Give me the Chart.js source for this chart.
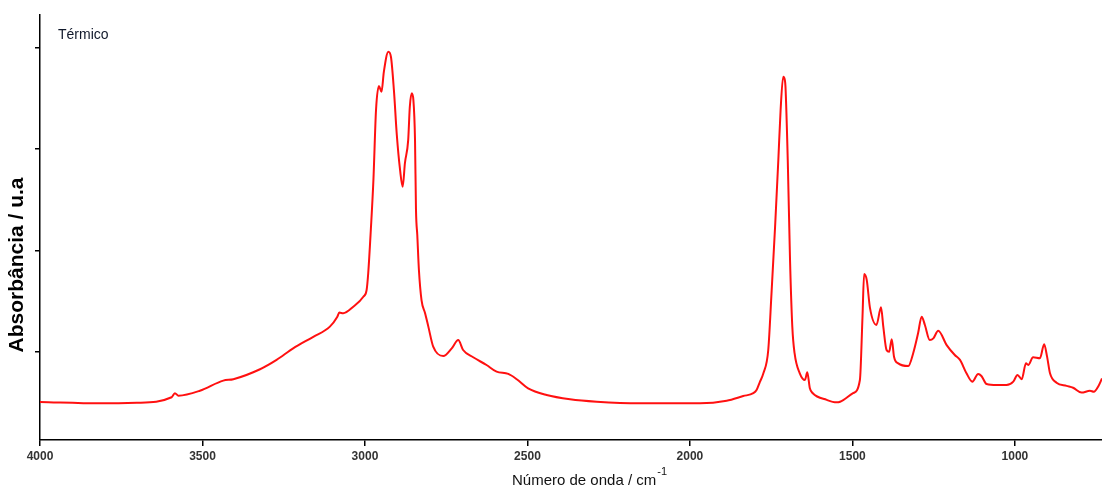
<!DOCTYPE html>
<html>
<head>
<meta charset="utf-8">
<script src="https://cdn.jsdelivr.net/npm/chart.js@4/dist/chart.umd.min.js"></script>
<style>
html,body{margin:0;padding:0;background:#fff;}
canvas{display:block;}
</style>
</head>
<body>
<canvas id="c" width="1102" height="489"></canvas>
<script>
// Wavenumber (cm-1) and absorbance (a.u.)
const wavenumbers = [4000,3815,3702,3595,3585,3574,3508,3436,3405,3323,3272,3221,3159,3108,3085,3079,3067,3036,3005,2995,2990,2982,2974,2966,2957,2949,2942,2928,2920,2911,2902,2892,2884,2877,2867,2862,2856,2851,2846,2843,2839,2834,2826,2815,2805,2790,2759,2733,2713,2698,2667,2626,2595,2559,2533,2498,2441,2369,2287,2154,1969,1887,1836,1805,1795,1785,1774,1759,1749,1738,1728,1721,1713,1708,1706,1699,1692,1685,1678,1662,1646,1639,1631,1622,1579,1549,1538,1498,1477,1469,1464,1456,1446,1426,1412,1405,1395,1387,1379,1372,1359,1328,1313,1298,1287,1277,1262,1251,1236,1210,1185,1169,1149,1131,1113,1103,1087,1056,1026,1005,992,979,966,959,944,923,910,901,892,872,841,821,795,769,757,744,732];
const absorbance = [0.254,0.247,0.250,0.277,0.297,0.285,0.309,0.359,0.366,0.415,0.461,0.518,0.575,0.625,0.674,0.694,0.691,0.723,0.772,0.805,0.888,1.101,1.347,1.692,1.810,1.782,1.879,1.979,1.953,1.791,1.569,1.397,1.314,1.431,1.544,1.708,1.774,1.741,1.544,1.200,1.076,0.904,0.756,0.691,0.625,0.526,0.480,0.518,0.559,0.510,0.474,0.436,0.403,0.392,0.366,0.321,0.288,0.267,0.255,0.247,0.247,0.260,0.283,0.297,0.313,0.352,0.395,0.510,0.789,1.117,1.446,1.692,1.856,1.840,1.807,1.446,0.953,0.625,0.494,0.395,0.362,0.400,0.321,0.297,0.264,0.252,0.255,0.297,0.362,0.674,0.884,0.855,0.717,0.633,0.720,0.625,0.510,0.501,0.563,0.477,0.444,0.431,0.494,0.592,0.674,0.633,0.559,0.567,0.605,0.534,0.485,0.461,0.395,0.354,0.392,0.382,0.342,0.337,0.337,0.354,0.387,0.366,0.444,0.436,0.474,0.469,0.538,0.477,0.395,0.349,0.333,0.324,0.300,0.309,0.304,0.329,0.370];
const xTicks = [4000,3500,3000,2500,2000,1500,1000];
const yTicks = [0.5,1.0,1.5,2.0];
const seriesLabel = 'Térmico';
const xTitle = 'Número de onda / cm';
const xTitleSup = '-1';
const yTitle = 'Absorbância / u.a';

const points = wavenumbers.map((w,i)=>({x:w,y:absorbance[i]}));

const textPlugin = {
  id:'texts',
  afterDraw(chart){
    const ctx = chart.ctx;
    ctx.save();
    ctx.fillStyle = '#10182a';
    ctx.textBaseline = 'middle';
    ctx.font = '14px "Liberation Sans", Arial, sans-serif';
    ctx.textAlign = 'left';
    ctx.fillText(seriesLabel, 58, 35);
    // x title with superscript
    ctx.fillStyle = '#111';
    ctx.font = '15px "Liberation Sans", Arial, sans-serif';
    ctx.fillText(xTitle, 512, 481);
    const w = ctx.measureText(xTitle).width;
    ctx.font = '11px "Liberation Sans", Arial, sans-serif';
    ctx.fillText(xTitleSup, 512 + w + 1, 472);
    // y title
    ctx.translate(17, 265);
    ctx.rotate(-Math.PI/2);
    ctx.textAlign = 'center';
    ctx.font = 'bold 21px "Liberation Sans", Arial, sans-serif';
    ctx.fillStyle = '#000';
    ctx.fillText(yTitle, 0, 0);
    ctx.restore();
  }
};

new Chart(document.getElementById('c'), {
  type:'line',
  data:{datasets:[{label:seriesLabel,data:points,borderColor:'#ff1010',borderWidth:2,pointRadius:0,cubicInterpolationMode:'monotone',fill:false}]},
  options:{
    responsive:false,
    animation:false,
    devicePixelRatio:1,
    layout:{padding:{top:15,right:0,left:0,bottom:0}},
    plugins:{legend:{display:false},tooltip:{enabled:false}},
    scales:{
      x:{
        type:'linear', reverse:true, min:732, max:4000,
        afterBuildTicks:s=>{s.ticks = xTicks.map(v=>({value:v}));},
        afterFit:s=>{s.height=49; s.paddingLeft=0; s.paddingRight=0;},
        ticks:{color:'#333',font:{family:'"Liberation Sans", Arial, sans-serif',size:12,weight:'bold'},padding:3,maxRotation:0,autoSkip:false,callback:v=>String(v)},
        grid:{drawOnChartArea:false,drawTicks:true,tickLength:6,color:'#000',lineWidth:1.5},
        border:{display:true,color:'#000',width:1.5}
      },
      y:{
        type:'linear', min:0.0665, max:2.16,
        afterBuildTicks:s=>{s.ticks = yTicks.map(v=>({value:v}));},
        afterFit:s=>{s.width=40; s.paddingTop=0; s.paddingBottom=0;},
        ticks:{display:false},
        grid:{drawOnChartArea:false,drawTicks:true,tickLength:5,color:'#000',lineWidth:1.5},
        border:{display:true,color:'#000',width:1.5}
      }
    }
  },
  plugins:[textPlugin]
});
</script>
</body>
</html>
